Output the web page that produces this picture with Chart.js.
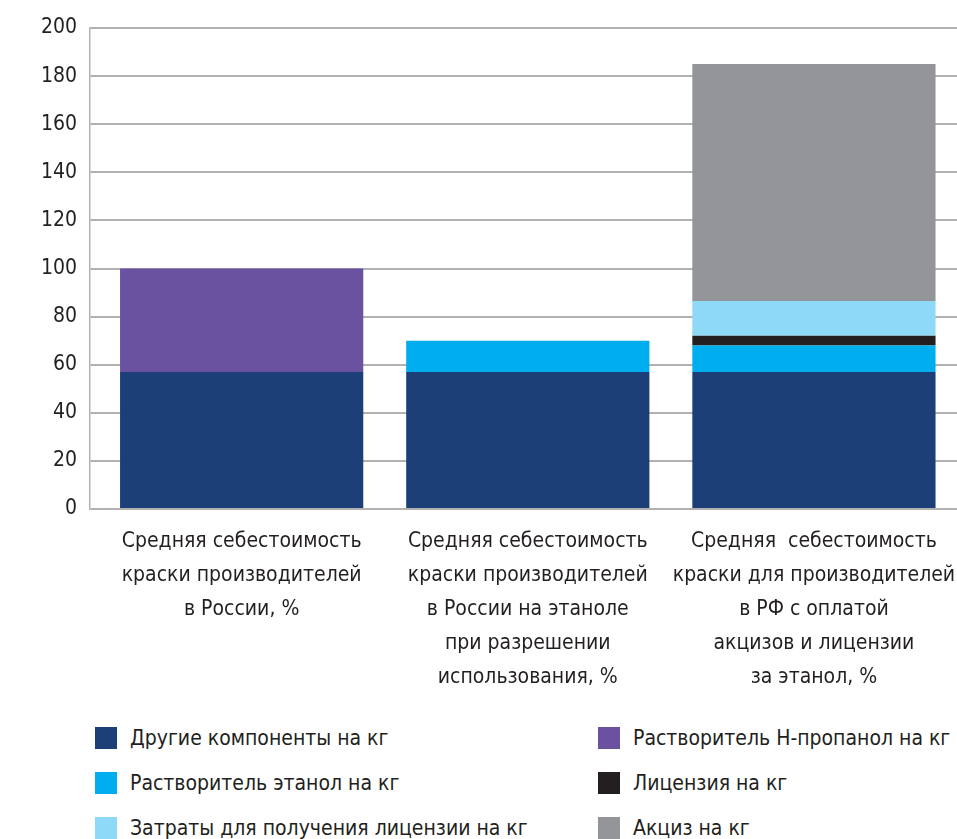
<!DOCTYPE html>
<html lang="ru">
<head>
<meta charset="utf-8">
<script src="https://cdn.jsdelivr.net/npm/chart.js@4.4.1/dist/chart.umd.min.js"></script>
<style>
  html, body { margin: 0; padding: 0; background: #fff; }
  body { width: 957px; height: 839px; overflow: hidden; position: relative;
         font-family: 'Liberation Sans Narrow', 'DejaVu Sans Condensed', sans-serif; color: #231f20; }
  #wrap { position: absolute; left: 0; top: 0; width: 957px; height: 700px; }
  #legend { position: absolute; left: 95px; top: 727px; display: grid;
            grid-template-columns: 503px auto; row-gap: 23px; }
  .item { display: flex; align-items: center; height: 22px; font-size: 21px; white-space: nowrap; }
  .box { width: 22px; height: 22px; margin-right: 13px; flex: none; }
</style>
</head>
<body>
<div id="wrap"><canvas id="chart"></canvas></div>
<div id="legend"></div>
<script>
const categories = [
  ['Средняя себестоимость', 'краски производителей', 'в России, %'],
  ['Средняя себестоимость', 'краски производителей', 'в России на этаноле', 'при разрешении', 'использования, %'],
  ['Средняя  себестоимость', 'краски для производителей', 'в РФ с оплатой', 'акцизов и лицензии', 'за этанол, %']
]

const otherComponents = [57, 57, 57]
const propanolSolvent = [43, 0, 0]
const ethanolSolvent = [0, 13, 11]
const license = [0, 0, 4]
const licenseCosts = [0, 0, 14.5]
const excise = [0, 0, 98.5]

const yTicks = { min: 0, max: 200, step: 20 }

const series = [
  { label: 'Другие компоненты на кг', values: otherComponents, color: '#1d3f77' },
  { label: 'Растворитель Н-пропанол на кг', values: propanolSolvent, color: '#6a52a0' },
  { label: 'Растворитель этанол на кг', values: ethanolSolvent, color: '#00aeef' },
  { label: 'Лицензия на кг', values: license, color: '#231f20' },
  { label: 'Затраты для получения лицензии на кг', values: licenseCosts, color: '#8ed8f8' },
  { label: 'Акциз на кг', values: excise, color: '#939598' }
]

const fontFamily = "'Liberation Sans Narrow', 'DejaVu Sans Condensed', sans-serif"
const textColor = '#231f20'

const ctx = document.getElementById('chart').getContext('2d')

const chart = new Chart(ctx, {
  type: 'bar',
  data: {
    datasets: series.map(s => ({
      label: s.label,
      data: s.values.map((v, i) => ({ x: i, y: v })),
      backgroundColor: s.color,
      borderWidth: 0,
      barPercentage: 0.85,
      categoryPercentage: 1
    }))
  },
  options: {
    responsive: true,
    maintainAspectRatio: false,
    animation: false,
    layout: { padding: { top: 28, right: 0, left: 0, bottom: 0 } },
    plugins: {
      legend: { display: false },
      tooltip: { enabled: false }
    },
    scales: {
      x: {
        type: 'linear',
        stacked: true,
        offset: false,
        min: -0.53,
        max: 2.5,
        afterFit: (scale) => {
          scale.height = 191
          scale.paddingLeft = 0
          scale.paddingRight = 0
        },
        afterBuildTicks: (scale) => {
          scale.ticks = categories.map((c, i) => ({ value: i }))
        },
        grid: { display: false, drawTicks: false, offset: false },
        border: { display: false },
        ticks: {
          padding: 16,
          maxRotation: 0,
          autoSkip: false,
          color: textColor,
          font: { family: fontFamily, size: 21, lineHeight: '34px' },
          callback: (value) => categories[value] || ''
        }
      },
      y: {
        stacked: true,
        min: yTicks.min,
        max: yTicks.max,
        afterFit: (scale) => { scale.width = 90 },
        grid: { color: '#b1b1b1', lineWidth: 2, drawTicks: false },
        border: { display: true, color: '#b1b1b1', width: 1.5 },
        ticks: {
          stepSize: yTicks.step,
          padding: 13,
          color: textColor,
          font: { family: fontFamily, size: 21 }
        }
      }
    }
  }
})

// legend built from the chart's own datasets
const legendEl = document.getElementById('legend')
chart.data.datasets.forEach(ds => {
  const item = document.createElement('div')
  item.className = 'item'
  item.innerHTML = `<span class="box" style="background:${ds.backgroundColor}"></span><span>${ds.label}</span>`
  legendEl.appendChild(item)
})
</script>
</body>
</html>
